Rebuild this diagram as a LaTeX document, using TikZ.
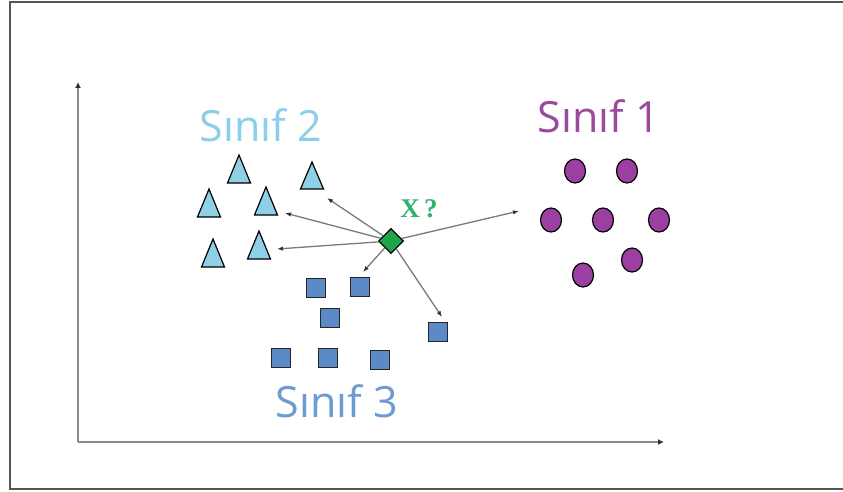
\documentclass[tikz,border=0pt]{standalone}
\usepackage{fontspec}
\setmainfont{Open Sans}
\newfontfamily\serifx{Liberation Serif}
\usetikzlibrary{shapes.geometric,arrows.meta}
\definecolor{frameC}{HTML}{555555}
\definecolor{axisC}{HTML}{8A8A8A}
\definecolor{arrC}{HTML}{7A7A7A}
\definecolor{triC}{HTML}{8FD0E6}
\definecolor{sqC}{HTML}{5B8AC6}
\definecolor{cirC}{HTML}{9B3FA0}
\definecolor{diaC}{HTML}{1FA64A}
\definecolor{lblOne}{HTML}{9A4B9E}
\definecolor{lblTwo}{HTML}{8CCFEB}
\definecolor{lblThree}{HTML}{6B9BD0}
\definecolor{xC}{HTML}{2DB36B}
\tikzset{
  axisline/.style={draw=axisC, line width=2.2pt, -{Latex[length=6pt,width=6pt,fill=black!80,color=black!80]}},
  ptr/.style={draw=arrC, line width=1.3pt, -{Latex[length=6pt,width=4.5pt,color=black!80]}},
  tri/.style={fill=triC, draw=black, line width=1.2pt, line join=miter},
  sqbox/.style={rectangle, fill=sqC, draw=black!85, line width=1.2pt, minimum size=19pt, inner sep=0pt},
  dot/.style={ellipse, fill=cirC, draw=black, line width=1.2pt, minimum width=21pt, minimum height=24pt, inner sep=0pt},
  query/.style={diamond, fill=diaC, draw=black, line width=1.2pt, minimum size=25pt, inner sep=0pt},
  lbl/.style={font=\fontsize{43}{43}\selectfont, anchor=base, inner sep=0pt}
}
\begin{document}
\begin{tikzpicture}[x=1pt,y=-1pt]
\useasboundingbox (0,0) rectangle (843,492);
\fill[white] (0,0) rectangle (843,492);
% frame
\draw[frameC, line width=2pt] (843,2) -- (10,2) -- (10,489) -- (843,489);
% axes
\coordinate (o) at (78,442);
\coordinate (ytop) at (78,82);
\coordinate (xend) at (664,442);
\draw[axisline] (o) -- (ytop);
\draw[axisline] (o) -- (xend);
% labels
\node[lbl, text=lblTwo] (l2) at (261,142) {Sınıf 2};
\node[lbl, text=lblOne] (l1) at (599,133) {Sınıf 1};
\node[lbl, text=lblThree] (l3) at (337,417) {Sınıf 3};
% triangles (apex x, apex y, base y)
\foreach \ax/\ay/\by in {239/155/183, 312/162/189, 209/189/217, 266/187/215, 213/239/267, 259/231/259}{
  \path[tri] (\ax,\ay) -- (\ax+11.5,\by) -- (\ax-11.5,\by) -- cycle;
}
% circles
\node[dot] (c1) at (575,171) {};
\node[dot] (c2) at (627,171) {};
\node[dot] (c3) at (551,220) {};
\node[dot] (c4) at (603,220) {};
\node[dot] (c5) at (659,220) {};
\node[dot] (c6) at (583,275) {};
\node[dot] (c7) at (632,260) {};
% squares
\node[sqbox] (s1) at (316,288) {};
\node[sqbox] (s2) at (360,287) {};
\node[sqbox] (s3) at (330,318) {};
\node[sqbox] (s4) at (281,358) {};
\node[sqbox] (s5) at (328,358) {};
\node[sqbox] (s6) at (380,360) {};
\node[sqbox] (s7) at (438,332) {};
% query point
\node[query] (d) at (391,241) {};
\node[text=xC, font=\serifx\bfseries\fontsize{27}{27}\selectfont, anchor=base, inner sep=0pt] (xq) at (419,217) {X\,?};
% arrow tips
\coordinate (t1) at (327,198);
\coordinate (t2) at (285,213);
\coordinate (t3) at (277,249);
\coordinate (t4) at (363,272);
\coordinate (t5) at (519,211);
\coordinate (t6) at (442,317);
\foreach \t in {t1,t2,t3,t4,t5,t6}{
  \draw[ptr] (d) -- (\t);
}
\end{tikzpicture}
\end{document}
